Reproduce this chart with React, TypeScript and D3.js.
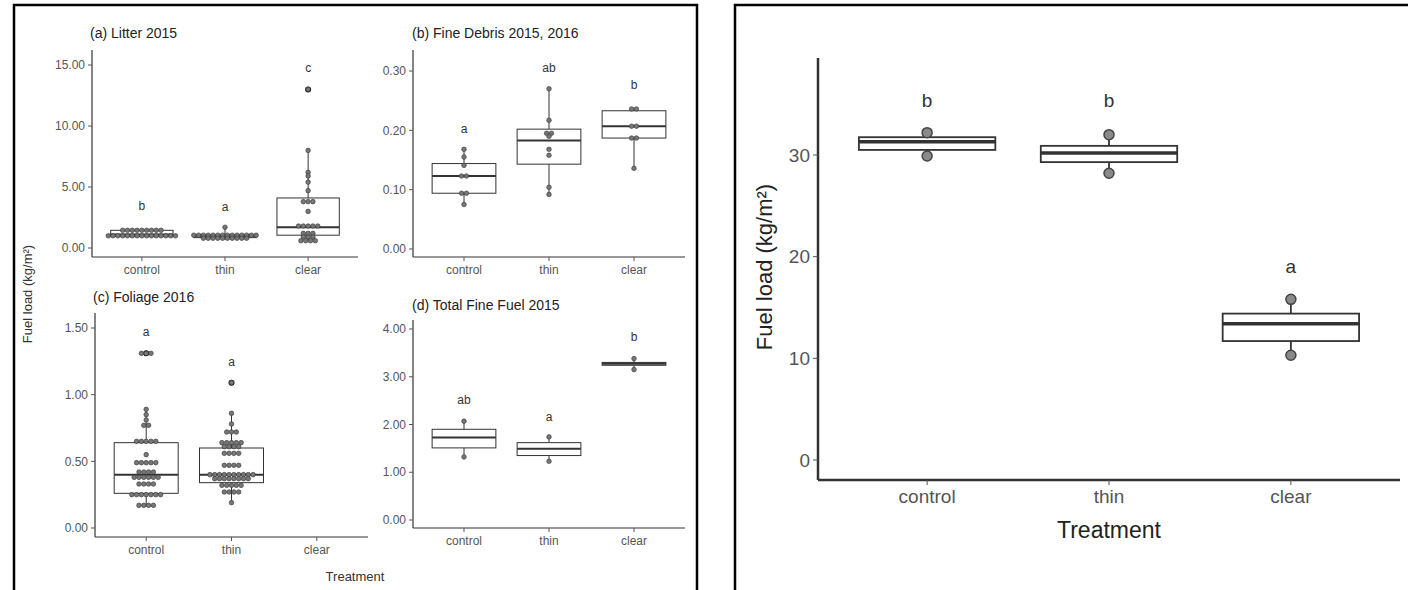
import React from "react";
import * as d3 from "d3";

const categories = ["control", "thin", "clear"];

// (a) Litter 2015 -- dot values per treatment, box stats [lo, q1, med, q3, hi]
const litterControl = [1.45, 1.45, 1.45, 1.45, 1.45, 1.45, 1.45, 1.45, 1.45, 1.0, 1.0, 1.0, 1.0, 1.0, 1.0, 1.0, 1.0, 1.0, 1.0, 1.0, 1.0, 1.0, 1.0, 1.0];
const litterThin = [1.7, 1.05, 1.05, 1.05, 1.05, 1.05, 1.05, 1.05, 1.05, 1.05, 1.05, 1.05, 1.05, 1.05, 1.05, 0.8, 0.8, 0.8, 0.8, 0.8, 0.8, 0.8, 0.8, 0.8, 0.8];
const litterClear = [13.0, 8.0, 6.2, 5.9, 5.4, 4.7, 3.8, 3.8, 3.8, 3.0, 1.8, 1.8, 1.8, 1.8, 1.8, 1.2, 1.2, 1.2, 0.9, 0.9, 0.9, 0.6, 0.6, 0.6, 0.6];
const litterStats = [[0.95, 0.95, 1.1, 1.45, 1.55], [0.7, 0.85, 1.0, 1.1, 1.7], [0.55, 1.05, 1.7, 4.1, 8.0]];
const litterOutliers = [[], [], [13.0]];
const litterLetters = ["b", "a", "c"];
const litterLetterY = [3.5, 3.4, 14.8];
const litterTicks = [0, 5, 10, 15];

// (b) Fine Debris 2015, 2016
const debrisControl = [0.168, 0.155, 0.141, 0.123, 0.123, 0.094, 0.094, 0.075];
const debrisThin = [0.27, 0.217, 0.195, 0.195, 0.19, 0.168, 0.158, 0.104, 0.092];
const debrisClear = [0.236, 0.236, 0.207, 0.207, 0.187, 0.187, 0.136];
const debrisStats = [[0.075, 0.094, 0.123, 0.144, 0.168], [0.092, 0.143, 0.183, 0.202, 0.27], [0.136, 0.187, 0.207, 0.233, 0.236]];
const debrisLetters = ["a", "ab", "b"];
const debrisLetterY = [0.203, 0.306, 0.276];
const debrisTicks = [0, 0.1, 0.2, 0.3];

// (c) Foliage 2016
const foliageControl = [1.31, 1.31, 1.31, 0.89, 0.85, 0.81, 0.77, 0.77, 0.65, 0.65, 0.65, 0.65, 0.65, 0.55, 0.49, 0.49, 0.49, 0.49, 0.49, 0.42, 0.42, 0.42, 0.42, 0.38, 0.38, 0.38, 0.38, 0.38, 0.38, 0.33, 0.33, 0.33, 0.33, 0.25, 0.25, 0.25, 0.25, 0.25, 0.25, 0.25, 0.17, 0.17, 0.17, 0.17];
const foliageThin = [1.09, 0.86, 0.78, 0.72, 0.72, 0.72, 0.64, 0.64, 0.64, 0.64, 0.64, 0.61, 0.61, 0.61, 0.61, 0.56, 0.56, 0.56, 0.56, 0.47, 0.47, 0.47, 0.47, 0.4, 0.4, 0.4, 0.4, 0.4, 0.4, 0.4, 0.4, 0.4, 0.4, 0.37, 0.37, 0.37, 0.37, 0.37, 0.37, 0.37, 0.37, 0.32, 0.32, 0.32, 0.32, 0.32, 0.27, 0.27, 0.27, 0.27, 0.19];
const foliageClear: number[] = [];
const foliageStats = [[0.16, 0.26, 0.4, 0.64, 0.89], [0.19, 0.34, 0.4, 0.6, 0.86], null];
const foliageOutliers = [[1.31], [1.09], []];
const foliageLetters = ["a", "a", ""];
const foliageLetterY = [1.47, 1.25, 0];
const foliageTicks = [0, 0.5, 1, 1.5];

// (d) Total Fine Fuel 2015
const totalControl = [2.07, 1.32];
const totalThin = [1.74, 1.23];
const totalClear = [3.38, 3.15];
const totalStats = [[1.32, 1.51, 1.73, 1.9, 2.07], [1.23, 1.35, 1.49, 1.62, 1.74], [3.15, 3.24, 3.27, 3.3, 3.38]];
const totalLetters = ["ab", "a", "b"];
const totalLetterY = [2.52, 2.16, 3.84];
const totalTicks = [0, 1, 2, 3, 4];

// right-hand figure
const loadControl = [32.2, 29.9];
const loadThin = [32.0, 28.2];
const loadClear = [15.8, 10.3];
const loadStats = [[29.9, 30.5, 31.3, 31.75, 32.2], [28.2, 29.3, 30.2, 30.9, 32.0], [10.3, 11.7, 13.4, 14.4, 15.8]];
const loadLetters = ["b", "b", "a"];
const loadLetterY = [35.4, 35.4, 19.0];
const loadTicks = [0, 10, 20, 30];

const font = "'Liberation Sans', Arial, Helvetica, sans-serif";

function stackDots(values: number[]) {
  const out: { v: number; k: number }[] = [];
  d3.group(values, (v) => v).forEach((arr, v) => {
    arr.forEach((_, i) => out.push({ v, k: i - (arr.length - 1) / 2 }));
  });
  return out;
}

function BoxPanel(p: any) {
  const x = d3.scalePoint().domain(categories).range([p.x0, p.x1]).padding(0.6);
  const y = d3.scaleLinear().domain([p.ticks[0], p.ticks[p.ticks.length - 1]]).range(p.tickPx);
  const boxW = x.step() * 0.75;
  const fmt = d3.format(p.fmt);
  return (
    <g fontFamily={font}>
      {p.title && (
        <text x={p.titleX} y={p.titleY} fontSize={p.titleSize} fill="#222">{p.title}</text>
      )}
      {/* boxes */}
      {categories.map((c, i) => {
        const s = p.stats[i];
        if (!s) return null;
        const cx = x(c)!;
        return (
          <g key={c} stroke="#333" fill="none">
            <line x1={cx} x2={cx} y1={y(s[0])} y2={y(s[1])} strokeWidth={p.lw} />
            <line x1={cx} x2={cx} y1={y(s[3])} y2={y(s[4])} strokeWidth={p.lw} />
            <rect x={cx - boxW / 2} width={boxW} y={y(s[3])} height={y(s[1]) - y(s[3])} fill="#fff" strokeWidth={p.lw} />
            <line x1={cx - boxW / 2} x2={cx + boxW / 2} y1={y(s[2])} y2={y(s[2])} strokeWidth={p.medW} />
          </g>
        );
      })}
      {/* outliers */}
      {categories.map((c, i) =>
        (p.outliers[i] || []).map((v: number, j: number) => (
          <circle key={c + j} cx={x(c)} cy={y(v)} r={p.outR} fill="#111" />
        ))
      )}
      {/* dots */}
      {categories.map((c, i) =>
        stackDots(p.dots[i]).map((d, j) => (
          <circle key={c + "d" + j} cx={x(c)! + d.k * p.dotGap} cy={y(d.v)} r={p.dotR}
            fill={p.dotFill} stroke={p.dotStroke} strokeWidth={p.dotSW} />
        ))
      )}
      {/* letters */}
      {categories.map((c, i) => (
        <text key={c + "l"} x={x(c)} y={y(p.letterY[i])} dy="0.35em" textAnchor="middle"
          fontSize={p.letterSize} fill="#333">{p.letters[i]}</text>
      ))}
      {/* axes */}
      <line x1={p.x0} x2={p.x0} y1={p.yTop} y2={p.yBase} stroke="#333" strokeWidth={p.axisW} />
      <line x1={p.x0} x2={p.x1} y1={p.yBase} y2={p.yBase} stroke="#333" strokeWidth={p.axisW} />
      {p.ticks.map((t: number) => (
        <g key={t}>
          <line x1={p.x0 - p.tickLen} x2={p.x0} y1={y(t)} y2={y(t)} stroke="#555" strokeWidth={1} />
          <text x={p.x0 - p.tickLen - 3} y={y(t)} dy="0.35em" textAnchor="end" fontSize={p.tickSize} fill="#555">{fmt(t)}</text>
        </g>
      ))}
      {categories.map((c) => (
        <g key={c + "x"}>
          <line x1={x(c)} x2={x(c)} y1={p.yBase} y2={p.yBase + p.tickLen} stroke="#555" strokeWidth={1} />
          <text x={x(c)} y={p.yBase + p.tickLen + 3} dy="0.8em" textAnchor="middle" fontSize={p.tickSize} fill="#555">{c}</text>
        </g>
      ))}
    </g>
  );
}

const small = {
  lw: 1, medW: 2, outR: 3, dotR: 2.3, dotGap: 4.8, dotFill: "#777", dotStroke: "#333", dotSW: 0.6,
  titleSize: 14, letterSize: 12, tickSize: 12, tickLen: 4, axisW: 1.2, fmt: ".2f",
};

export default function App() {
  return (
    <svg width={1408} height={590} style={{ position: "absolute", left: 0, top: 0, background: "#fff" }}>
      <rect x={0} y={0} width={1408} height={590} fill="#fff" />
      {/* left figure */}
      <rect x={14} y={5} width={683} height={620} fill="none" stroke="#000" strokeWidth={2.5} />
      <BoxPanel {...small} title="(a) Litter 2015" titleX={90} titleY={38}
        x0={92} x1={358} yTop={50} yBase={257} ticks={litterTicks} tickPx={[248, 65]}
        dots={[litterControl, litterThin, litterClear]} stats={litterStats} outliers={litterOutliers}
        letters={litterLetters} letterY={litterLetterY} />
      <BoxPanel {...small} title="(b) Fine Debris 2015, 2016" titleX={412} titleY={38}
        x0={413} x1={685} yTop={50} yBase={257} ticks={debrisTicks} tickPx={[249, 71]}
        dots={[debrisControl, debrisThin, debrisClear]} stats={debrisStats} outliers={[[], [], []]}
        letters={debrisLetters} letterY={debrisLetterY} />
      <BoxPanel {...small} title="(c) Foliage 2016" titleX={93} titleY={302}
        x0={95} x1={368} yTop={313} yBase={537} ticks={foliageTicks} tickPx={[528, 328]}
        dots={[foliageControl, foliageThin, foliageClear]} stats={foliageStats} outliers={foliageOutliers}
        letters={foliageLetters} letterY={foliageLetterY} />
      <BoxPanel {...small} title="(d) Total Fine Fuel 2015" titleX={412} titleY={310}
        x0={413} x1={685} yTop={320} yBase={528} ticks={totalTicks} tickPx={[520, 329]}
        dots={[totalControl, totalThin, totalClear]} stats={totalStats} outliers={[[], [], []]}
        letters={totalLetters} letterY={totalLetterY} />
      <text transform="translate(32,294) rotate(-90)" textAnchor="middle" fontFamily={font} fontSize={13} fill="#333">
        Fuel load (kg/m²)
      </text>
      <text x={355} y={581} textAnchor="middle" fontFamily={font} fontSize={13} fill="#333">Treatment</text>

      {/* right figure */}
      <rect x={735} y={5} width={720} height={620} fill="none" stroke="#000" strokeWidth={2.5} />
      <BoxPanel lw={1.8} medW={3.5} outR={5} dotR={5} dotGap={10} dotFill="#8a8a8a" dotStroke="#444" dotSW={1.5}
        letterSize={19} tickSize={19} tickLen={5} axisW={2.5} fmt="d"
        x0={818} x1={1400} yTop={58} yBase={480} ticks={loadTicks} tickPx={[460, 155]}
        dots={[loadControl, loadThin, loadClear]} stats={loadStats} outliers={[[], [], []]}
        letters={loadLetters} letterY={loadLetterY} />
      <text transform="translate(772,267) rotate(-90)" textAnchor="middle" fontFamily={font} fontSize={22} fill="#222">
        Fuel load (kg/m²)
      </text>
      <text x={1109} y={538} textAnchor="middle" fontFamily={font} fontSize={23} fill="#222">Treatment</text>
    </svg>
  );
}
